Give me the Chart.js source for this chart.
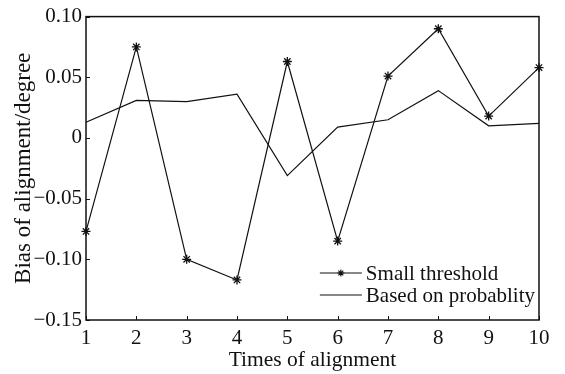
<!DOCTYPE html>
<html>
<head>
<meta charset="utf-8">
<script src="https://cdn.jsdelivr.net/npm/chart.js@4/dist/chart.umd.min.js"></script>
<style>
  html, body { margin: 0; padding: 0; background: #fff; }
  #wrap { width: 565px; height: 374px; }
</style>
</head>
<body>
<div id="wrap"><canvas id="c" width="565" height="374"></canvas></div>
<script>
/* data */
var times      = [1, 2, 3, 4, 5, 6, 7, 8, 9, 10];
var smallThr   = [-0.077, 0.075, -0.100, -0.117, 0.063, -0.085, 0.051, 0.090, 0.018, 0.058];
var probBased  = [0.013, 0.031, 0.030, 0.036, -0.031, 0.009, 0.015, 0.039, 0.010, 0.012];
var yTickVals  = [-0.15, -0.10, -0.05, 0, 0.05, 0.10];
var yTickText  = ['\u22120.15', '\u22120.10', '\u22120.05', '0', '0.05', '0.10'];

var FONT = '"Liberation Serif", "Times New Roman", serif';
var INK = '#111';

// box round the plot, inward ticks, legend inside the plot
var framePlugin = {
  id: 'frame',
  afterDraw: function(chart) {
    var ctx = chart.ctx, a = chart.chartArea;
    var xs = chart.scales.x, ys = chart.scales.y;
    ctx.save();
    ctx.strokeStyle = INK;
    ctx.lineWidth = 1.5;
    ctx.strokeRect(a.left, a.top, a.right - a.left, a.bottom - a.top);
    ctx.lineWidth = 1;
    ctx.beginPath();
    times.forEach(function(t, i) {
      var px = Math.round(xs.getPixelForValue(i)) + 0.5;
      ctx.moveTo(px, a.bottom); ctx.lineTo(px, a.bottom - 4);
    });
    yTickVals.forEach(function(v) {
      var py = Math.round(ys.getPixelForValue(v)) + 0.5;
      ctx.moveTo(a.left, py); ctx.lineTo(a.left + 4, py);
    });
    ctx.stroke();

    // legend
    ctx.font = '21px ' + FONT;
    var ds = chart.data.datasets;
    var maxW = 0;
    ds.forEach(function(d) { maxW = Math.max(maxW, ctx.measureText(d.label).width); });
    var textX = a.right - 4 - maxW;
    ds.forEach(function(d, i) {
      var y = a.bottom - 47 + i * 22;
      ctx.strokeStyle = INK;
      ctx.lineWidth = 1.1;
      ctx.beginPath();
      ctx.moveTo(textX - 46, y); ctx.lineTo(textX - 4, y);
      ctx.stroke();
      if (d.pointStyle === 'star') {
        Chart.helpers.drawPoint(ctx, { pointStyle: 'star', radius: 3.5, rotation: 0, borderWidth: 1 }, textX - 25, y);
      }
      ctx.fillStyle = INK;
      ctx.textBaseline = 'middle';
      ctx.textAlign = 'left';
      ctx.fillText(d.label, textX, y + 1);
    });
    ctx.restore();
  }
};

new Chart(document.getElementById('c'), {
  type: 'line',
  data: {
    labels: times,
    datasets: [
      {
        label: 'Small threshold',
        data: smallThr,
        borderColor: INK,
        borderWidth: 1.2,
        pointStyle: 'star',
        pointRadius: 4.5,
        pointBorderColor: INK,
        pointBorderWidth: 1.3,
        tension: 0
      },
      {
        label: 'Based on probablity',
        data: probBased,
        borderColor: INK,
        borderWidth: 1.2,
        pointRadius: 0,
        tension: 0
      }
    ]
  },
  options: {
    responsive: false,
    animation: false,
    layout: { padding: { top: 16, right: 26, left: 10, bottom: 0 } },
    plugins: { legend: { display: false }, tooltip: { enabled: false } },
    scales: {
      x: {
        type: 'category',
        offset: false,
        grid: { display: false, drawTicks: false },
        border: { display: false },
        ticks: { color: INK, font: { family: FONT, size: 21 }, padding: 6, maxRotation: 0, autoSkip: false },
        title: { display: true, text: 'Times of alignment', color: INK, font: { family: FONT, size: 21.5 }, padding: { top: 0, bottom: 1 } },
        afterFit: function(s) { s.height = 54; }
      },
      y: {
        min: -0.15,
        max: 0.10,
        grid: { display: false, drawTicks: false },
        border: { display: false },
        afterBuildTicks: function(s) { s.ticks = yTickVals.map(function(v) { return { value: v }; }); },
        ticks: {
          color: INK,
          font: { family: FONT, size: 21 },
          padding: 4,
          callback: function(v) {
            var i = yTickVals.findIndex(function(t) { return Math.abs(t - v) < 1e-9; });
            return i < 0 ? '' : yTickText[i];
          }
        },
        title: { display: true, text: 'Bias of alignment/degree', color: INK, font: { family: FONT, size: 23 }, padding: { top: 0, bottom: 0 } },
        afterFit: function(s) { s.width = 76; }
      }
    }
  },
  plugins: [framePlugin]
});
</script>
</body>
</html>
